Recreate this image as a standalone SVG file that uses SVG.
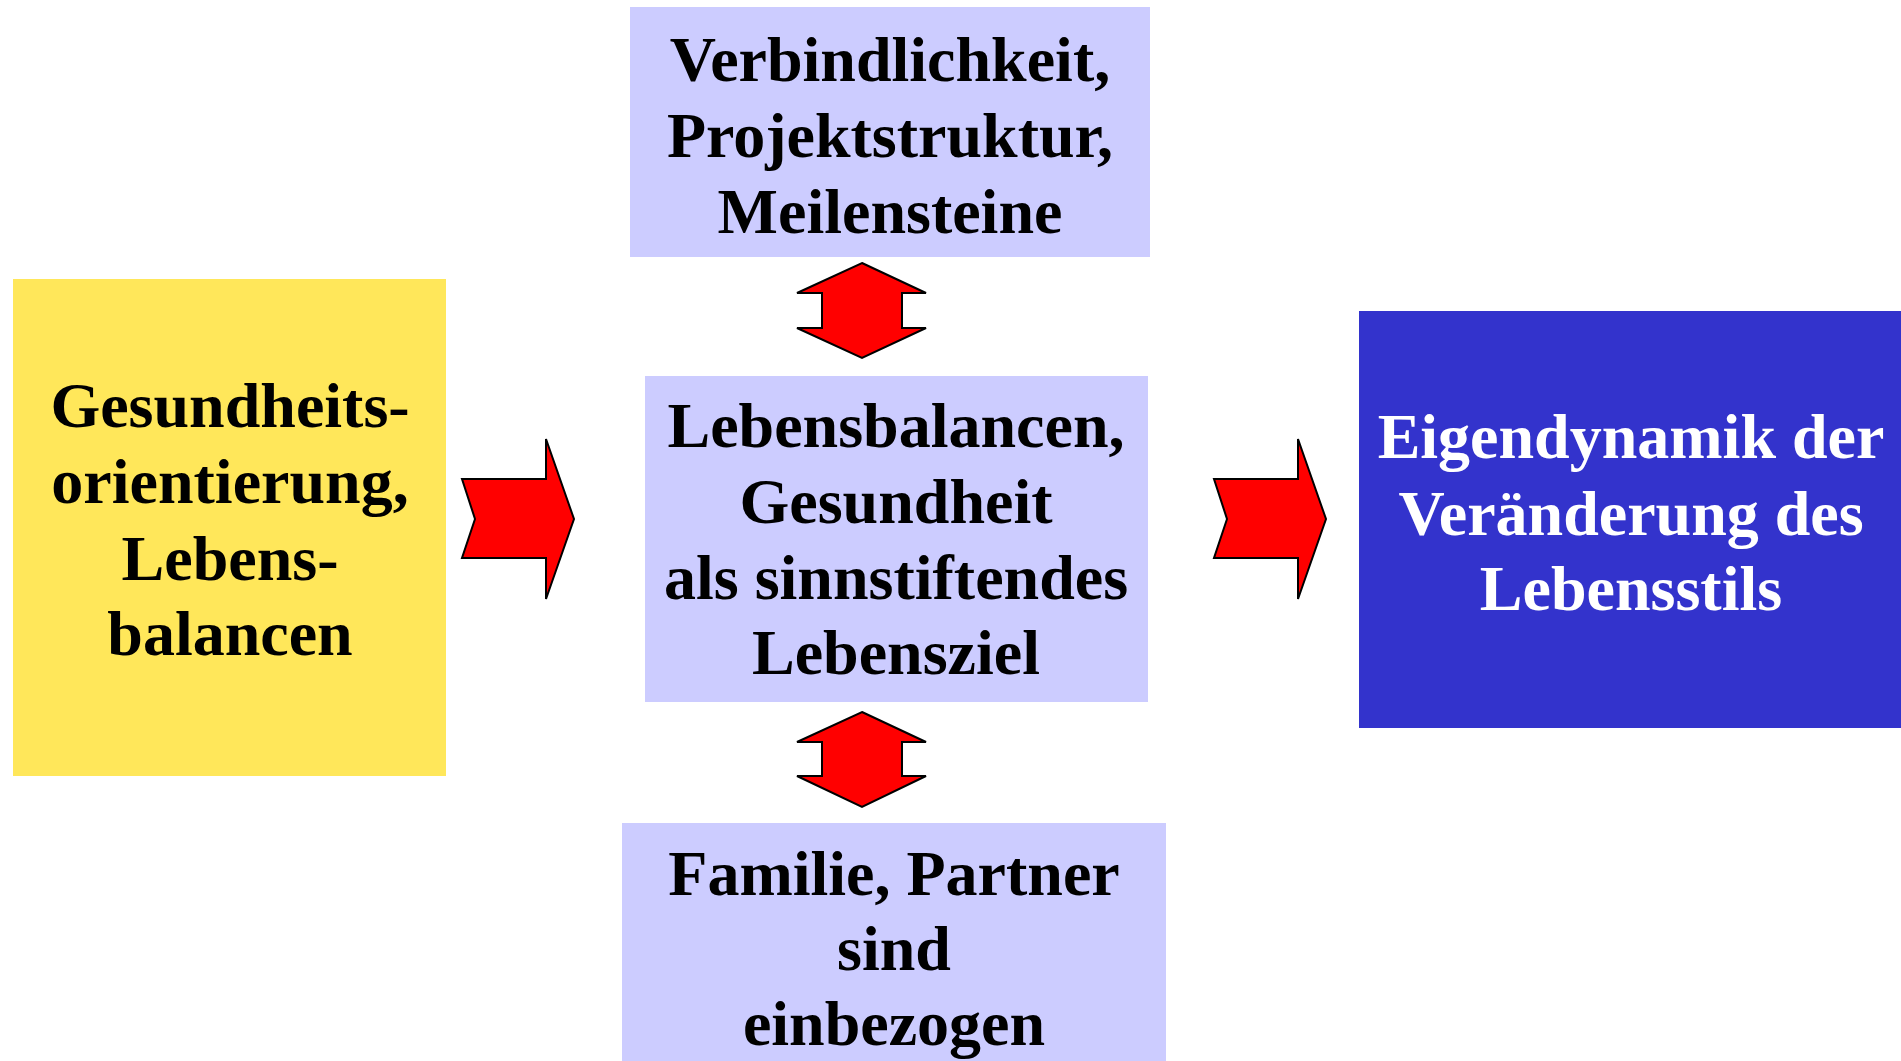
<svg xmlns="http://www.w3.org/2000/svg" width="1901" height="1061" viewBox="0 0 1901 1061">
<style>
.t{font-family:"Liberation Serif","Times New Roman",serif;font-weight:bold;font-size:64px;text-anchor:middle;fill:#000}
.w{fill:#fff}
.lav{fill:#CCCCFF}
.arr{fill:#FF0000;stroke:#000;stroke-width:2;stroke-linejoin:miter}
</style>
<rect width="1901" height="1061" fill="#fff"/>
<g id="yellow">
<rect x="13" y="279" width="433" height="497" fill="#FFE75A"/>
<text class="t" x="230" y="427">Gesundheits-</text>
<text class="t" x="230" y="503">orientierung,</text>
<text class="t" x="230" y="580">Lebens-</text>
<text class="t" x="230" y="655">balancen</text>
</g>
<g id="top">
<rect class="lav" x="630" y="7" width="520" height="250"/>
<text class="t" x="890" y="81">Verbindlichkeit,</text>
<text class="t" x="890" y="157">Projektstruktur,</text>
<text class="t" x="890" y="233">Meilensteine</text>
</g>
<g id="center">
<rect class="lav" x="645" y="376" width="503" height="326"/>
<text class="t" x="896" y="447">Lebensbalancen,</text>
<text class="t" x="896" y="523">Gesundheit</text>
<text class="t" x="896" y="599">als sinnstiftendes</text>
<text class="t" x="896" y="674">Lebensziel</text>
</g>
<g id="bottom">
<rect class="lav" x="622" y="823" width="544" height="238"/>
<text class="t" x="894" y="895">Familie, Partner</text>
<text class="t" x="894" y="970">sind</text>
<text class="t" x="894" y="1045">einbezogen</text>
</g>
<g id="blue">
<rect x="1359" y="311" width="542" height="417" fill="#3333CC"/>
<text class="t w" x="1631" y="458">Eigendynamik der</text>
<text class="t w" x="1631" y="535">Veränderung des</text>
<text class="t w" x="1631" y="610">Lebensstils</text>
</g>
<g id="connectors">
<polygon class="arr" points="462,479 546,479 546,439 574,519 546,599 546,558 462,558 475,519"/>
<polygon class="arr" points="1214,479 1298,479 1298,439 1326,519 1298,599 1298,558 1214,558 1227,519"/>
<polygon class="arr" points="862,263 926,293 902,293 902,328 926,328 862,358 797,328 822,328 822,293 797,293"/>
<polygon class="arr" points="862,712 926,742 902,742 902,776 926,776 862,807 797,776 822,776 822,742 797,742"/>
</g>
</svg>
